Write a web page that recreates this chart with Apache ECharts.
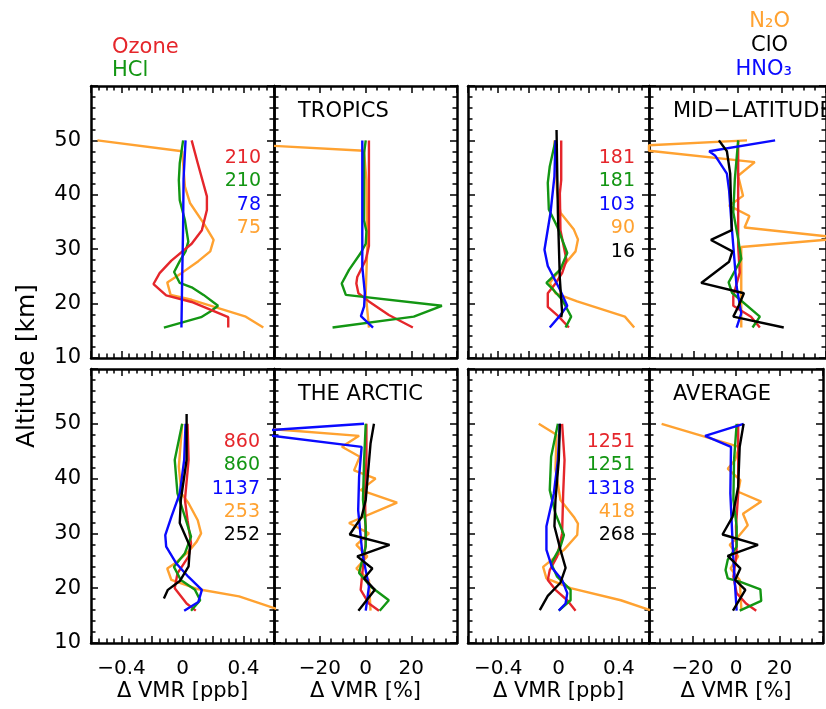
<!DOCTYPE html>
<html><head><meta charset="utf-8">
<script src="https://cdn.jsdelivr.net/npm/echarts@6/dist/echarts.min.js"></script>
<style>html,body{margin:0;padding:0;background:#fff}#c{width:826px;height:709px}</style>
</head><body><div id="c"></div>
<script>
// ---------------- DATA: [ΔVMR, altitude km] ----------------
// Tropics, ppb
const tropicsPpbOzone = [[0.06,50],[0.10,45.8],[0.16,39.7],[0.16,37.2],[0.127,33.5],[0.06,31.0],[-0.073,27.9],[-0.15,25.6],[-0.19,23.6],[-0.107,21.5],[0.06,20.3],[0.30,17.5],[0.30,15.6]];
const tropicsPpbHCl = [[0.004,50],[-0.018,45.8],[-0.024,42.7],[-0.018,39.0],[0.016,35.3],[0.038,31.4],[0.02,29.6],[-0.018,27.8],[-0.055,25.8],[-0.018,23.8],[0.06,23.0],[0.138,21.6],[0.233,19.6],[0.18,18.5],[0.122,17.5],[-0.122,15.6]];
const tropicsPpbHNO3 = [[0.02,50],[0.007,43],[0.004,34],[-0.002,25],[-0.007,15.6]];
const tropicsPpbN2O = [[-0.558,50],[-0.002,48.0],[0.016,41.5],[0.049,38.5],[0.138,34.8],[0.204,31.7],[0.182,29.6],[0.104,27.8],[-0.007,25.6],[-0.1,23.9],[-0.078,21.6],[0.06,20.7],[0.415,17.6],[0.53,15.6]];
// Tropics, %
const tropicsPctOzone = [[1.5,50],[1.5,30.6],[0.1,28.0],[-3.6,24.9],[-4,23.7],[-3.1,21.9],[1.5,20.4],[10.2,17.9],[20.7,15.6]];
const tropicsPctHCl = [[0.1,50],[-0.6,47.7],[-0.65,35.3],[0.4,33.3],[0.1,31],[-2.1,29.3],[-7.2,26.2],[-10.4,23.7],[-8.6,21.6],[33.4,19.6],[21.1,17.6],[-14.4,15.6]];
const tropicsPctHNO3 = [[-1.4,50],[-1.4,26.8],[-0.3,22],[-0.6,19.5],[-2,17.7],[3.3,15.6]];
const tropicsPctN2O = [[-40,49.0],[-0.65,48.1],[0.4,42.7],[0.8,30.6],[0.1,21.9],[1.5,15.6]];
// Mid-latitude, ppb
const midlatPpbOzone = [[0.018,50],[0.018,42.7],[0.009,40.3],[0.013,33.5],[0.053,28],[0.024,25.6],[-0.02,23.7],[-0.071,21.9],[-0.071,19.4],[0.002,17.6],[0.069,15.6]];
const midlatPpbHCl = [[-0.02,50],[-0.058,45.2],[-0.071,42.2],[-0.064,37.3],[-0.009,34.2],[0.058,29.3],[0.013,26.3],[-0.08,23.8],[-0.036,22.6],[0.024,20.7],[0.084,17.6],[0.047,15.6]];
const midlatPpbHNO3 = [[-0.02,50],[-0.027,43.4],[-0.053,36.7],[-0.093,29.9],[-0.071,26.9],[0.009,22.6],[0.058,19.6],[0.004,17.6],[-0.058,15.6]];
const midlatPpbN2O = [[-0.027,50],[-0.009,40.4],[0.013,36.7],[0.102,33.6],[0.129,31.8],[0.113,29.6],[0.013,26.3],[-0.058,23.8],[-0.02,21.9],[0.124,20.4],[0.44,17.6],[0.502,15.6]];
const midlatPpbClO = [[-0.013,51.9],[-0.004,36.7],[0.009,24.5],[0.024,18.4],[0.018,17.5]];
// Mid-latitude, %
const midlatPctOzone = [[0.3,50],[0.3,30.6],[1,25.7],[-1.9,21.4],[-1.9,19.6],[6.1,17.6],[10.1,15.6]];
const midlatPctHCl = [[0.3,50],[-1.2,42.9],[-1.9,36.8],[0.3,31.9],[1.7,28.2],[-4,23.9],[-2.5,22],[10.1,17.6],[6.8,15.6]];
const midlatPctHNO3 = [[17,50],[-12.8,48],[-10.1,47.2],[-4.8,43.9],[-3.8,40.8],[-2.6,34.1],[-0.4,23.1],[1.7,18.2],[-0.4,15.6]];
const midlatPctN2O = [[4.3,50],[-40,49.1],[-40,48.1],[7.8,46],[0.3,43.5],[2.5,39.8],[-3.8,38],[5.4,36.1],[3.2,34],[42,32.3],[42,31.8],[1.7,30.4],[1.7,15.6]];
const midlatPctClO = [[-8.4,50],[-4.8,48],[-3.3,43.9],[-2.6,33.5],[-12,31.7],[-2.3,29.6],[-3.8,27.7],[-16.4,23.8],[2.9,21.9],[0.3,19.4],[-1.9,17.6],[20.9,15.6]];
// The Arctic, ppb
const arcticPpbOzone = [[0.033,50],[0.04,43.4],[0.016,36.1],[0.033,32.4],[0.056,28.2],[0.04,25.8],[-0.033,22.7],[-0.051,20],[0.027,17.2],[0.087,15.9]];
const arcticPpbHCl = [[-0.002,50],[-0.051,43.4],[-0.033,37.3],[0.016,33],[0.056,29.4],[0.016,26.4],[-0.056,23.9],[-0.011,21.5],[0.082,19.7],[0.116,17.8],[0.056,15.9]];
const arcticPpbHNO3 = [[0.02,50],[0.011,43.4],[-0.018,37.3],[-0.073,33],[-0.113,29.7],[-0.107,27.6],[-0.04,24.5],[0.038,22.1],[0.127,19.7],[0.104,17.5],[0.011,15.9]];
const arcticPpbN2O = [[-0.002,50],[-0.024,42.2],[-0.007,37.3],[0.04,35.5],[0.1,32.4],[0.122,30],[0.093,28.5],[0.04,26.7],[-0.051,24.5],[-0.1,23.6],[-0.073,21.5],[0.104,19.8],[0.371,18.5],[0.62,16.2]];
const arcticPpbClO = [[0.027,51.8],[0.027,43.4],[-0.011,36.1],[-0.018,31.9],[0.049,27.6],[0.04,24],[-0.018,21.3],[-0.096,19.7],[-0.122,18.1]];
// The Arctic, %
const arcticPctOzone = [[0.4,50],[0.4,43.4],[-0.2,37.3],[0.1,28.2],[-1.1,23.9],[-2.1,19.7],[1.5,17.2],[5.9,15.9]];
const arcticPctHCl = [[0.1,50],[-0.6,43.4],[-1.1,36.1],[0.1,31.3],[0.1,27.6],[-2.8,22.8],[2.2,20.3],[10.2,17.8],[6.2,15.9]];
const arcticPctHNO3 = [[-0.65,50],[-54,48.5],[-1.7,45.8],[-2.8,40.3],[-3.2,34.2],[-1.4,26.4],[1.5,20.3],[0.1,15.9]];
const arcticPctN2O = [[-40,49.0],[-2.8,47.8],[-10.3,45.8],[-2.5,44],[-5,41.5],[4.4,40],[-2.1,37.9],[13.8,35.6],[-7.2,31.9],[1.5,30],[-4,27.9],[0.8,25.8],[-4,23.6],[1.5,21.5],[2.2,15.9]];
const arcticPctClO = [[3.7,50],[2.2,46.4],[1.2,41.5],[0.1,36.1],[-1.7,33],[-6.9,29.8],[10.5,27.9],[-3.6,25.8],[3,23.6],[-0.6,21.8],[4.1,19.7],[-3.1,15.9]];
// Average, ppb
const averagePpbOzone = [[0.024,50],[0.04,43.4],[0.031,37.3],[0.024,30],[-0.009,25.8],[-0.058,23.3],[-0.071,21.5],[-0.02,19.7],[0.058,17.8],[0.113,15.9]];
const averagePpbHCl = [[-0.004,50],[-0.049,44],[-0.058,37.9],[-0.02,33.6],[0.036,29.7],[0.013,27.6],[-0.049,24.5],[-0.009,22.1],[0.08,19.7],[0.08,17.8],[0.002,15.9]];
const averagePpbHNO3 = [[0.009,50],[-0.004,43.4],[-0.031,37.3],[-0.08,31.3],[-0.08,27],[-0.042,23.7],[0.024,21.5],[0.058,19.1],[0.047,17.2],[0.002,15.9]];
const averagePpbN2O = [[-0.131,50],[-0.013,48],[-0.02,41.7],[0.013,36.1],[0.102,33],[0.129,31.8],[0.124,29.7],[0.036,27],[-0.102,23.9],[-0.08,21.8],[0.08,20],[0.413,17.8],[0.607,16]];
const averagePpbClO = [[0.009,50],[0.002,43.4],[-0.02,36.1],[-0.027,31.3],[0.013,27],[0.047,23.7],[0.013,21],[-0.071,18.6],[-0.124,16]];
// Average, %
const averagePctOzone = [[1,50],[1,37.3],[0,31.3],[0.3,26.4],[-1.2,22.1],[0.3,19.1],[4.6,17.2],[9.3,15.9]];
const averagePctHCl = [[0.3,50],[-0.9,43.4],[-1.2,36.1],[0.3,31.3],[0.3,27.6],[-3.8,25.2],[-4.8,23.3],[-3.8,21.8],[1.7,21.2],[11.2,19.8],[11.6,17.7],[1.7,15.9]];
const averagePctHNO3 = [[3.5,50],[-14.2,47.8],[-2.3,45.8],[-2.6,37.3],[-1.2,25.2],[0.3,15.9]];
const averagePctN2O = [[-34.2,50],[1.4,45.8],[-0.4,43.4],[-3.8,41.8],[2,39.7],[1,37.6],[11.6,35.8],[3.2,33.6],[5.4,31.5],[1,29.4],[-2.9,27.9],[1,25.8],[-2.5,23.6],[1.7,21.5],[2.5,15.9]];
const averagePctClO = [[3.5,50],[1.7,45.8],[1,38.5],[-1.6,33],[-6.2,29.8],[10.1,27.9],[-3.8,25.9],[2,23.6],[-0.4,21.5],[4.3,19.7],[-1.4,15.9]];

// Number of coincidences per species
const tropicsCounts = ['210','210','78','75'];
const midlatCounts = ['181','181','103','90','16'];
const arcticCounts = ['860','860','1137','253','252'];
const averageCounts = ['1251','1251','1318','418','268'];

// Tick labels
const ppbTickValues = [-0.4, 0, 0.4];
const ppbTickLabels = ['\u22120.4', '0', '0.4'];
const pctTickValues = [-20, 0, 20];
const pctTickLabels = ['\u221220', '0', '20'];
const altTickLabels = [10, 20, 30, 40, 50];

const panelTitles = ['', 'TROPICS', '', 'MID\u2212LATITUDE', '', 'THE ARCTIC', '', 'AVERAGE'];

// ---------------- STYLE / LAYOUT ----------------
const COL = { ozone: '#e5262b', hcl: '#139613', hno3: '#0a0aff', n2o: '#ffa231', clo: '#000000' };
const FONT = '"DejaVu Sans", sans-serif';
const colLeft = [91, 274, 468, 649];
const colWidth = [183, 183, 181, 183];
const rowTop = [86, 369];
const rowHeight = [272, 274];

const panels = [
  { kind: 'ppb', s: [['n2o', tropicsPpbN2O], ['hcl', tropicsPpbHCl], ['ozone', tropicsPpbOzone], ['hno3', tropicsPpbHNO3]] },
  { kind: 'pct', s: [['n2o', tropicsPctN2O], ['ozone', tropicsPctOzone], ['hcl', tropicsPctHCl], ['hno3', tropicsPctHNO3]] },
  { kind: 'ppb', s: [['n2o', midlatPpbN2O], ['ozone', midlatPpbOzone], ['hcl', midlatPpbHCl], ['hno3', midlatPpbHNO3], ['clo', midlatPpbClO]] },
  { kind: 'pct', s: [['n2o', midlatPctN2O], ['ozone', midlatPctOzone], ['hcl', midlatPctHCl], ['hno3', midlatPctHNO3], ['clo', midlatPctClO]] },
  { kind: 'ppb', s: [['n2o', arcticPpbN2O], ['ozone', arcticPpbOzone], ['hcl', arcticPpbHCl], ['hno3', arcticPpbHNO3], ['clo', arcticPpbClO]] },
  { kind: 'pct', s: [['n2o', arcticPctN2O], ['ozone', arcticPctOzone], ['hcl', arcticPctHCl], ['hno3', arcticPctHNO3], ['clo', arcticPctClO]] },
  { kind: 'ppb', s: [['n2o', averagePpbN2O], ['ozone', averagePpbOzone], ['hcl', averagePpbHCl], ['hno3', averagePpbHNO3], ['clo', averagePpbClO]] },
  { kind: 'pct', s: [['n2o', averagePctN2O], ['ozone', averagePctOzone], ['hcl', averagePctHCl], ['hno3', averagePctHNO3], ['clo', averagePctClO]] }
];

const grids = [], xAxes = [], yAxes = [], series = [];
const lineAxis = { show: true, onZero: false, lineStyle: { color: '#000', width: 2.5 } };
const majorTick = { show: true, inside: true, length: 7, lineStyle: { color: '#000', width: 1.5 } };

function labelFor(v, vals, labs) {
  for (let i = 0; i < vals.length; i++) if (Math.abs(v - vals[i]) < 1e-6) return labs[i];
  return '';
}

panels.forEach((p, g) => {
  const row = Math.floor(g / 4), col = g % 4;
  grids.push({ left: colLeft[col], top: rowTop[row], width: colWidth[col], height: rowHeight[row] });
  const isPpb = p.kind === 'ppb';
  const xBase = {
    gridIndex: g, type: 'value',
    min: isPpb ? -0.6 : -40, max: isPpb ? 0.6 : 40, interval: isPpb ? 0.2 : 20,
    axisLine: lineAxis, axisTick: majorTick,
    minorTick: { show: true, splitNumber: 4, length: 4.5, lineStyle: { color: '#000', width: 1.5 } },
    splitLine: { show: false }
  };
  xAxes.push(Object.assign({}, xBase, {
    position: 'bottom',
    axisLabel: {
      show: row === 1, margin: 16, color: '#000', fontFamily: FONT, fontSize: 20,
      formatter: v => isPpb ? labelFor(v, ppbTickValues, ppbTickLabels) : labelFor(v, pctTickValues, pctTickLabels)
    },
    name: row === 1 ? (isPpb ? '\u0394 VMR [ppb]' : '\u0394 VMR [%]') : '',
    nameLocation: 'middle', nameGap: 38,
    nameTextStyle: { color: '#000', fontFamily: FONT, fontSize: 21 }
  }));
  xAxes.push(Object.assign({}, xBase, { position: 'top', axisLabel: { show: false } }));
  const yBase = {
    gridIndex: g, type: 'value', min: 10, max: 60, interval: 10,
    axisLine: lineAxis, axisTick: majorTick,
    minorTick: { show: true, splitNumber: 5, length: 4.5, lineStyle: { color: '#000', width: 1.5 } },
    splitLine: { show: false }
  };
  yAxes.push(Object.assign({}, yBase, {
    position: 'left',
    axisLabel: {
      show: col === 0, margin: 10, color: '#000', fontFamily: FONT, fontSize: 21,
      formatter: v => altTickLabels.indexOf(v) >= 0 ? String(v) : ''
    }
  }));
  yAxes.push(Object.assign({}, yBase, { position: 'right', axisLabel: { show: false } }));
  p.s.forEach(([sp, data]) => {
    series.push({
      type: 'line', xAxisIndex: 2 * g, yAxisIndex: 2 * g, data: data,
      showSymbol: false, symbol: 'none', clip: true, silent: true,
      lineStyle: { color: COL[sp], width: 2.4 }, itemStyle: { color: COL[sp] },
      z: sp === 'clo' ? 5 : 3
    });
  });
});

// ---------------- TEXT ----------------
const graphic = [];
function txt(t, x, y, color, size, align, extra) {
  graphic.push(Object.assign({
    type: 'text', x: x, y: y, silent: true,
    style: { text: t, fill: color, font: size + 'px ' + FONT, textAlign: align, textVerticalAlign: 'middle' }
  }, extra || {}));
}
// legend
txt('Ozone', 112, 48, COL.ozone, 21, 'left');
txt('HCl', 112, 71, COL.hcl, 21, 'left');
txt('N\u2082O', 790, 22, COL.n2o, 21, 'right');
txt('ClO', 788, 46, COL.clo, 21, 'right');
txt('HNO\u2083', 792, 70, COL.hno3, 21, 'right');
// panel titles
const titlePos = { 1: [298, 112], 3: [673, 112], 5: [298, 395], 7: [673, 395] };
Object.keys(titlePos).forEach(k => txt(panelTitles[k], titlePos[k][0], titlePos[k][1], '#000', 21, 'left'));
// counts
const countColors4 = [COL.ozone, COL.hcl, COL.hno3, COL.n2o];
const countColors5 = [COL.ozone, COL.hcl, COL.hno3, COL.n2o, COL.clo];
tropicsCounts.forEach((c, i) => txt(c, 261, 158 + i * 23.5, countColors4[i], 19, 'right'));
midlatCounts.forEach((c, i) => txt(c, 635, 158 + i * 23.5, countColors5[i], 19, 'right'));
arcticCounts.forEach((c, i) => txt(c, 260, 442 + i * 23.3, countColors5[i], 19, 'right'));
averageCounts.forEach((c, i) => txt(c, 635, 442 + i * 23.3, countColors5[i], 19, 'right'));
// y-axis title
txt('Altitude [km]', 27, 366, '#000', 25, 'center', { rotation: Math.PI / 2 });

const chart = echarts.init(document.getElementById('c'), null, { renderer: 'canvas' });
chart.setOption({
  animation: false,
  backgroundColor: '#fff',
  grid: grids, xAxis: xAxes, yAxis: yAxes, series: series, graphic: graphic
});
</script>
</body></html>
